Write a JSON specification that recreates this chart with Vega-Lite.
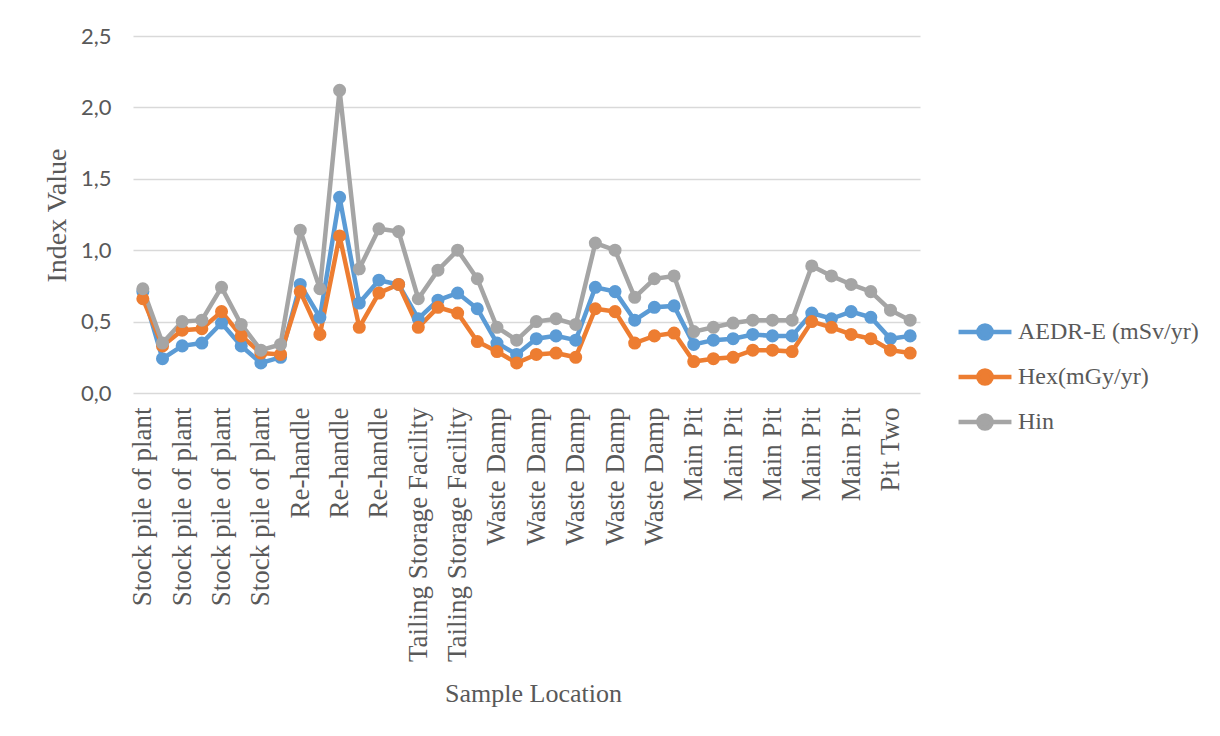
{
  "$schema": "https://vega.github.io/schema/vega-lite/v6.json",
  "autosize": {"type": "none"},
  "padding": {"left": 133, "top": 36, "right": 300, "bottom": 343},
  "width": 787,
  "height": 357,
  "background": "white",
  "data": {
    "values": [
      {"sample": "00|Stock pile of plant", "AEDR-E (mSv/yr)": 0.71, "Hex(mGy/yr)": 0.66, "Hin": 0.73},
      {"sample": "01|Stock pile of plant", "AEDR-E (mSv/yr)": 0.24, "Hex(mGy/yr)": 0.33, "Hin": 0.35},
      {"sample": "02|Stock pile of plant", "AEDR-E (mSv/yr)": 0.33, "Hex(mGy/yr)": 0.44, "Hin": 0.50},
      {"sample": "03|Stock pile of plant", "AEDR-E (mSv/yr)": 0.35, "Hex(mGy/yr)": 0.45, "Hin": 0.51},
      {"sample": "04|Stock pile of plant", "AEDR-E (mSv/yr)": 0.49, "Hex(mGy/yr)": 0.57, "Hin": 0.74},
      {"sample": "05|Stock pile of plant", "AEDR-E (mSv/yr)": 0.33, "Hex(mGy/yr)": 0.40, "Hin": 0.48},
      {"sample": "06|Stock pile of plant", "AEDR-E (mSv/yr)": 0.21, "Hex(mGy/yr)": 0.28, "Hin": 0.30},
      {"sample": "07|Stock pile of plant", "AEDR-E (mSv/yr)": 0.25, "Hex(mGy/yr)": 0.27, "Hin": 0.34},
      {"sample": "08|Re-handle", "AEDR-E (mSv/yr)": 0.76, "Hex(mGy/yr)": 0.71, "Hin": 1.14},
      {"sample": "09|Re-handle", "AEDR-E (mSv/yr)": 0.53, "Hex(mGy/yr)": 0.41, "Hin": 0.73},
      {"sample": "10|Re-handle", "AEDR-E (mSv/yr)": 1.37, "Hex(mGy/yr)": 1.10, "Hin": 2.12},
      {"sample": "11|Re-handle", "AEDR-E (mSv/yr)": 0.63, "Hex(mGy/yr)": 0.46, "Hin": 0.87},
      {"sample": "12|Re-handle", "AEDR-E (mSv/yr)": 0.79, "Hex(mGy/yr)": 0.70, "Hin": 1.15},
      {"sample": "13|Re-handle", "AEDR-E (mSv/yr)": 0.76, "Hex(mGy/yr)": 0.76, "Hin": 1.13},
      {"sample": "14|Tailing Storage Facility", "AEDR-E (mSv/yr)": 0.52, "Hex(mGy/yr)": 0.46, "Hin": 0.66},
      {"sample": "15|Tailing Storage Facility", "AEDR-E (mSv/yr)": 0.65, "Hex(mGy/yr)": 0.60, "Hin": 0.86},
      {"sample": "16|Tailing Storage Facility", "AEDR-E (mSv/yr)": 0.70, "Hex(mGy/yr)": 0.56, "Hin": 1.00},
      {"sample": "17|Tailing Storage Facility", "AEDR-E (mSv/yr)": 0.59, "Hex(mGy/yr)": 0.36, "Hin": 0.80},
      {"sample": "18|Waste Damp", "AEDR-E (mSv/yr)": 0.35, "Hex(mGy/yr)": 0.29, "Hin": 0.46},
      {"sample": "19|Waste Damp", "AEDR-E (mSv/yr)": 0.27, "Hex(mGy/yr)": 0.21, "Hin": 0.37},
      {"sample": "20|Waste Damp", "AEDR-E (mSv/yr)": 0.38, "Hex(mGy/yr)": 0.27, "Hin": 0.50},
      {"sample": "21|Waste Damp", "AEDR-E (mSv/yr)": 0.40, "Hex(mGy/yr)": 0.28, "Hin": 0.52},
      {"sample": "22|Waste Damp", "AEDR-E (mSv/yr)": 0.37, "Hex(mGy/yr)": 0.25, "Hin": 0.48},
      {"sample": "23|Waste Damp", "AEDR-E (mSv/yr)": 0.74, "Hex(mGy/yr)": 0.59, "Hin": 1.05},
      {"sample": "24|Waste Damp", "AEDR-E (mSv/yr)": 0.71, "Hex(mGy/yr)": 0.57, "Hin": 1.00},
      {"sample": "25|Waste Damp", "AEDR-E (mSv/yr)": 0.51, "Hex(mGy/yr)": 0.35, "Hin": 0.67},
      {"sample": "26|Waste Damp", "AEDR-E (mSv/yr)": 0.60, "Hex(mGy/yr)": 0.40, "Hin": 0.80},
      {"sample": "27|Waste Damp", "AEDR-E (mSv/yr)": 0.61, "Hex(mGy/yr)": 0.42, "Hin": 0.82},
      {"sample": "28|Main Pit", "AEDR-E (mSv/yr)": 0.34, "Hex(mGy/yr)": 0.22, "Hin": 0.43},
      {"sample": "29|Main Pit", "AEDR-E (mSv/yr)": 0.37, "Hex(mGy/yr)": 0.24, "Hin": 0.46},
      {"sample": "30|Main Pit", "AEDR-E (mSv/yr)": 0.38, "Hex(mGy/yr)": 0.25, "Hin": 0.49},
      {"sample": "31|Main Pit", "AEDR-E (mSv/yr)": 0.41, "Hex(mGy/yr)": 0.30, "Hin": 0.51},
      {"sample": "32|Main Pit", "AEDR-E (mSv/yr)": 0.40, "Hex(mGy/yr)": 0.30, "Hin": 0.51},
      {"sample": "33|Main Pit", "AEDR-E (mSv/yr)": 0.40, "Hex(mGy/yr)": 0.29, "Hin": 0.51},
      {"sample": "34|Main Pit", "AEDR-E (mSv/yr)": 0.56, "Hex(mGy/yr)": 0.50, "Hin": 0.89},
      {"sample": "35|Main Pit", "AEDR-E (mSv/yr)": 0.52, "Hex(mGy/yr)": 0.46, "Hin": 0.82},
      {"sample": "36|Main Pit", "AEDR-E (mSv/yr)": 0.57, "Hex(mGy/yr)": 0.41, "Hin": 0.76},
      {"sample": "37|Main Pit", "AEDR-E (mSv/yr)": 0.53, "Hex(mGy/yr)": 0.38, "Hin": 0.71},
      {"sample": "38|Pit Two", "AEDR-E (mSv/yr)": 0.38, "Hex(mGy/yr)": 0.30, "Hin": 0.58},
      {"sample": "39|Pit Two", "AEDR-E (mSv/yr)": 0.40, "Hex(mGy/yr)": 0.28, "Hin": 0.51}
    ]
  },
  "transform": [
    {"fold": ["AEDR-E (mSv/yr)", "Hex(mGy/yr)", "Hin"], "as": ["series", "val"]}
  ],
  "mark": {"type": "line", "strokeWidth": 4.5, "point": {"filled": true, "size": 170}},
  "encoding": {
    "x": {
      "field": "sample",
      "type": "ordinal",
      "sort": null,
      "scale": {"type": "point", "padding": 0.5},
      "axis": {
        "title": "Sample Location",
        "labelExpr": "parseInt(slice(datum.value,0,2)) % 2 == 0 ? slice(datum.value,3) : ''",
        "labelAngle": -90,
        "labelFont": "Liberation Serif",
        "labelFontSize": 27,
        "labelColor": "#595959",
        "labelPadding": 14,
        "labelOverlap": false,
        "labelBound": false,
        "labelLimit": 400,
        "ticks": false,
        "domain": false,
        "grid": false,
        "titleFont": "Liberation Serif",
        "titleFontSize": 26,
        "titleFontWeight": "normal",
        "titleColor": "#595959",
        "titleY": 287,
        "titleX": 400
      }
    },
    "y": {
      "field": "val",
      "type": "quantitative",
      "scale": {"domain": [0, 2.5]},
      "axis": {
        "title": "Index Value",
        "values": [0, 0.5, 1, 1.5, 2, 2.5],
        "labelExpr": "replace(format(datum.value,'.1f'),'.',',')",
        "labelFont": "Lato",
        "labelFontSize": 22,
        "labelColor": "#595959",
        "labelPadding": 22,
        "ticks": false,
        "domain": false,
        "gridColor": "#D9D9D9",
        "gridWidth": 1.5,
        "titleFont": "Liberation Serif",
        "titleFontSize": 28,
        "titleFontWeight": "normal",
        "titleColor": "#595959",
        "titleX": -76,
        "titleY": 179,
        "titleBaseline": "middle"
      }
    },
    "color": {
      "field": "series",
      "type": "nominal",
      "scale": {
        "domain": ["AEDR-E (mSv/yr)", "Hex(mGy/yr)", "Hin"],
        "range": ["#5B9BD5", "#ED7D31", "#A5A5A5"]
      },
      "legend": {
        "title": null,
        "orient": "none",
        "legendX": 823,
        "legendY": 267,
        "labelFont": "Liberation Serif",
        "labelFontSize": 24,
        "labelColor": "#595959",
        "labelLimit": 300,
        "symbolType": "M -1 0 L -0.25 0 M 0.25 0 L 1 0 M 0.25 0 A 0.25 0.25 0 1 1 -0.25 0 A 0.25 0.25 0 1 1 0.25 0",
        "symbolSize": 2800,
        "symbolStrokeWidth": 4.5,
        "rowPadding": -14,
        "labelOffset": 4
      }
    }
  },
  "config": {"view": {"stroke": null}}
}
